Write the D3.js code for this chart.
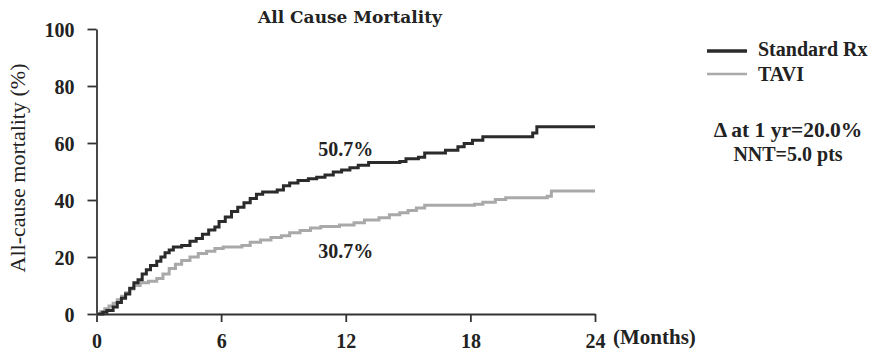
<!DOCTYPE html>
<html>
<head>
<meta charset="utf-8">
<script src="https://cdn.jsdelivr.net/npm/d3@7"></script>
<style>
  html, body { margin: 0; padding: 0; background: #fff; }
  svg { display: block; }
</style>
</head>
<body>
<svg id="chart" width="885" height="352"></svg>
<script>
// ---- data (months, cumulative mortality %) ----
const stdMonths = [0,0.3,0.5,0.8,1.0,1.2,1.4,1.6,1.8,2.0,2.2,2.4,2.6,2.9,3.1,3.3,3.5,3.7,4.1,4.5,4.8,5.1,5.4,5.7,5.9,6.2,6.5,6.8,7.1,7.4,7.7,8.0,8.7,9.0,9.3,9.7,10.2,10.6,11.0,11.4,11.8,12.2,12.6,13.1,14.6,14.9,15.5,15.8,16.8,17.4,17.7,18.1,18.6,21.0,21.2,24];
const stdValues = [0,0.6,1.2,2.5,4,5.5,7,9,11,12,14,15.5,17,18.5,20,21.5,22.5,23.5,24,25.5,26.5,28,29.5,30.5,32.5,34,36,37.5,39,40.5,42,42.8,43.5,45,46,46.8,47.5,48,48.8,49.8,50.5,51.3,52.2,53.2,53.5,54.5,55,56.5,57.5,58.7,59.8,61,62.2,63.5,65.7,65.7];

const taviMonths = [0,0.2,0.4,0.6,0.8,1.0,1.2,1.4,1.6,1.8,2.1,2.5,2.9,3.2,3.5,3.8,4.1,4.5,4.9,5.3,5.7,6.1,7.0,7.4,7.9,8.4,8.9,9.3,9.8,10.3,10.8,11.7,12.4,12.9,13.6,14.1,14.6,15.0,15.4,15.8,18.2,18.6,19.2,19.7,21.7,21.9,24];
const taviValues = [0,0.8,1.8,2.8,3.8,5,6.2,7.5,8.8,10,11,11.5,12.5,14,16,17.5,18.8,20,21.2,22,23,23.5,24,25.2,26,26.8,27.5,28.5,29.3,30.2,30.7,31.2,32,33,33.8,34.8,35.5,36.3,37.2,38.2,38.5,39.2,40.2,40.8,41.3,43.2,43.2];

const seriesNames = ["Standard Rx", "TAVI"];
const seriesColors = ["#2b2b2b", "#a9a9a9"];
const xTicks = [0, 6, 12, 18, 24];
const yTicks = [0, 20, 40, 60, 80, 100];
const annotations = ["50.7%", "30.7%"];
const annotationAt = [[12, 55.5], [12, 19.5]];
const title = "All Cause Mortality";
const yLabel = "All-cause mortality (%)";
const xUnit = "(Months)";
const statLines = ["\u0394 at 1 yr=20.0%", "NNT=5.0 pts"];

// ---- chart ----
const svg = d3.select("#chart");
const x = d3.scaleLinear().domain([0, 24]).range([96.5, 595]);
const y = d3.scaleLinear().domain([0, 100]).range([314, 29]);

const serifB = "'Liberation Serif', 'Times New Roman', serif";
const axisColor = "#333";
const textColor = "#222";

// y axis
const gy = svg.append("g").attr("transform", `translate(${x(0)},0)`)
  .call(d3.axisLeft(y).tickValues(yTicks).tickSize(9).tickPadding(13).tickSizeOuter(0));
gy.select(".domain").attr("stroke", axisColor).attr("stroke-width", 1.8);
gy.selectAll(".tick line").attr("stroke", axisColor).attr("stroke-width", 1.8);
gy.selectAll(".tick text")
  .attr("font-family", serifB).attr("font-weight", "bold").attr("font-size", 20)
  .attr("fill", textColor).attr("dy", "0.36em");

// x axis
const gx = svg.append("g").attr("transform", `translate(0,${y(0)})`)
  .call(d3.axisBottom(x).tickValues(xTicks).tickSize(8).tickPadding(12).tickSizeOuter(0));
gx.select(".domain").attr("stroke", axisColor).attr("stroke-width", 1.8);
gx.selectAll(".tick line").attr("stroke", axisColor).attr("stroke-width", 1.8);
gx.selectAll(".tick text")
  .attr("font-family", serifB).attr("font-weight", "bold").attr("font-size", 20)
  .attr("fill", textColor).attr("dy", "0.71em");

svg.append("text").attr("x", 613).attr("y", 344)
  .attr("font-family", serifB).attr("font-weight", "bold").attr("font-size", 21)
  .attr("fill", textColor).text(xUnit);

// lines
const mk = (ms, vs) => ms.map((m, i) => [m, vs[i]]);
const series = [mk(stdMonths, stdValues), mk(taviMonths, taviValues)];
const line = d3.line().x(d => x(d[0])).y(d => y(d[1])).curve(d3.curveStepAfter);
// draw TAVI first, Standard on top
[1, 0].forEach(i => {
  svg.append("path").datum(series[i])
    .attr("fill", "none").attr("stroke", seriesColors[i])
    .attr("stroke-width", 3).attr("stroke-linejoin", "miter")
    .attr("d", line);
});

// title
svg.append("text").attr("x", 350).attr("y", 23).attr("text-anchor", "middle")
  .attr("font-family", "'DejaVu Serif', serif").attr("font-weight", "bold").attr("font-size", 17)
  .attr("fill", textColor).text(title);

// y label
svg.append("text").attr("transform", `translate(25,168) rotate(-90)`)
  .attr("text-anchor", "middle")
  .attr("font-family", serifB).attr("font-size", 22)
  .attr("fill", textColor).text(yLabel);

// annotations
annotations.forEach((t, i) => {
  svg.append("text").attr("x", x(annotationAt[i][0])).attr("y", y(annotationAt[i][1]))
    .attr("text-anchor", "middle")
    .attr("font-family", serifB).attr("font-weight", "bold").attr("font-size", 20)
    .attr("fill", textColor).text(t);
});

// legend
seriesNames.forEach((n, i) => {
  const ly = 51 + i * 23;
  svg.append("line").attr("x1", 707).attr("x2", 747).attr("y1", ly).attr("y2", ly)
    .attr("stroke", seriesColors[i]).attr("stroke-width", i === 0 ? 3.5 : 2.5);
  svg.append("text").attr("x", 758).attr("y", 56 + i * 25)
    .attr("font-family", serifB).attr("font-weight", "bold").attr("font-size", 20)
    .attr("fill", textColor).text(n);
});

// stats
statLines.forEach((t, i) => {
  svg.append("text").attr("x", 788).attr("y", 137 + i * 24).attr("text-anchor", "middle")
    .attr("font-family", serifB).attr("font-weight", "bold").attr("font-size", i === 0 ? 21.5 : 20)
    .attr("fill", textColor)
    .text(t);
});
</script>
</body>
</html>
